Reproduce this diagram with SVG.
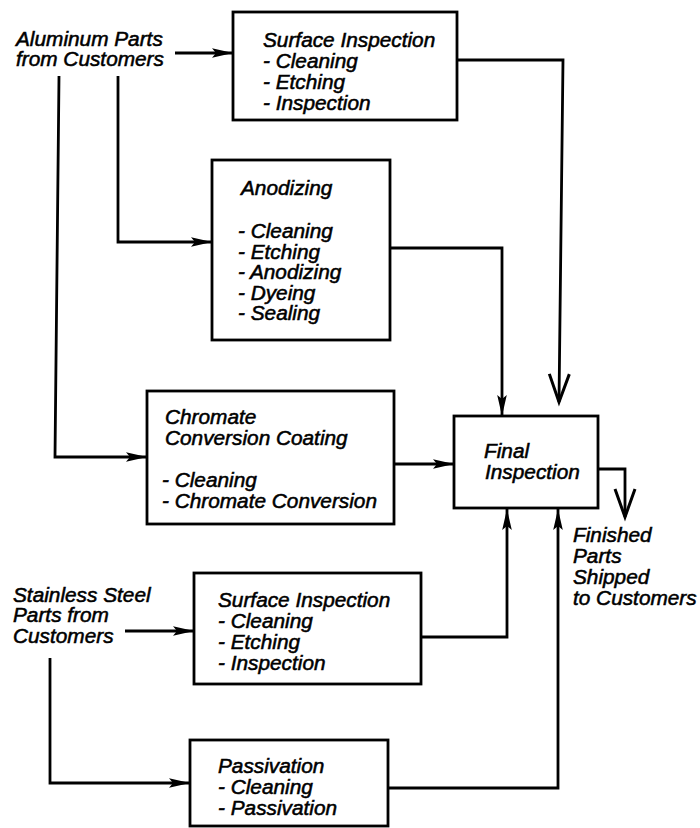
<svg xmlns="http://www.w3.org/2000/svg" width="700" height="828" viewBox="0 0 700 828">
<style>
text{font-family:"Liberation Sans",Arial,Helvetica,sans-serif;font-style:italic;font-size:20.8px;fill:#000;stroke:#000;stroke-width:0.55px}
.box{fill:#fff;stroke:#000;stroke-width:2.8}
.c{fill:none;stroke:#000;stroke-width:2.8;stroke-linejoin:miter}
.fa{marker-end:url(#fill)}
.oa{marker-end:url(#open)}
</style>
<defs>
<marker id="fill" markerUnits="userSpaceOnUse" orient="auto" refX="0" refY="0" markerWidth="30" markerHeight="30" overflow="visible">
<path d="M-21,-4.8 L0,0 L-21,4.8 L-17,0 z" fill="#000"/>
</marker>
<marker id="open" markerUnits="userSpaceOnUse" orient="auto" refX="0" refY="0" markerWidth="40" markerHeight="40" overflow="visible">
<path d="M-28,-10 L0,0 L-28,10" fill="none" stroke="#000" stroke-width="3"/>
</marker>
</defs>
<rect width="700" height="828" fill="#fff"/>
<g id="connectors">
<path class="c fa" d="M175,53 H233"/>
<path class="c fa" d="M118,76 V242 H212"/>
<path class="c fa" d="M59,76 L55,457 H147"/>
<path class="c oa" d="M457,60 H563 L559,402"/>
<path class="c fa" d="M390,248 H502 V416"/>
<path class="c fa" d="M394,464 H454"/>
<path class="c oa" d="M598,469 H625 V517"/>
<path class="c fa" d="M421,637 H507 V509"/>
<path class="c fa" d="M125,631 H194"/>
<path class="c fa" d="M50,658 V783 H190"/>
<path class="c fa" d="M388,788 H558 V509"/>
</g>
<g id="aluminum">
<text x="16" y="46">Aluminum Parts</text>
<text x="16" y="66">from Customers</text>
</g>
<g id="surface1">
<rect class="box" x="233" y="12" width="224" height="108"/>
<text x="263" y="47">Surface Inspection</text>
<text x="263" y="68">- Cleaning</text>
<text x="263" y="89">- Etching</text>
<text x="263" y="110">- Inspection</text>
</g>
<g id="anodizing">
<rect class="box" x="212" y="160" width="178" height="180"/>
<text x="241" y="195">Anodizing</text>
<text x="238" y="238">- Cleaning</text>
<text x="238" y="259">- Etching</text>
<text x="238" y="279">- Anodizing</text>
<text x="238" y="300">- Dyeing</text>
<text x="238" y="320">- Sealing</text>
</g>
<g id="chromate">
<rect class="box" x="147" y="391" width="247" height="133"/>
<text x="165" y="424">Chromate</text>
<text x="165" y="445">Conversion Coating</text>
<text x="162" y="487">- Cleaning</text>
<text x="162" y="508">- Chromate Conversion</text>
</g>
<g id="final">
<rect class="box" x="454" y="416" width="144" height="92"/>
<text x="484" y="458">Final</text>
<text x="485" y="479">Inspection</text>
</g>
<g id="finished">
<text x="573" y="542">Finished</text>
<text x="573" y="563">Parts</text>
<text x="573" y="584">Shipped</text>
<text x="573" y="605">to Customers</text>
</g>
<g id="stainless">
<text x="13" y="602">Stainless Steel</text>
<text x="13" y="622">Parts from</text>
<text x="13" y="643">Customers</text>
</g>
<g id="surface2">
<rect class="box" x="194" y="573" width="227" height="111"/>
<text x="218" y="607">Surface Inspection</text>
<text x="218" y="628">- Cleaning</text>
<text x="218" y="649">- Etching</text>
<text x="218" y="670">- Inspection</text>
</g>
<g id="passivation">
<rect class="box" x="190" y="740" width="198" height="86"/>
<text x="218" y="773">Passivation</text>
<text x="218" y="794">- Cleaning</text>
<text x="218" y="815">- Passivation</text>
</g>
</svg>
